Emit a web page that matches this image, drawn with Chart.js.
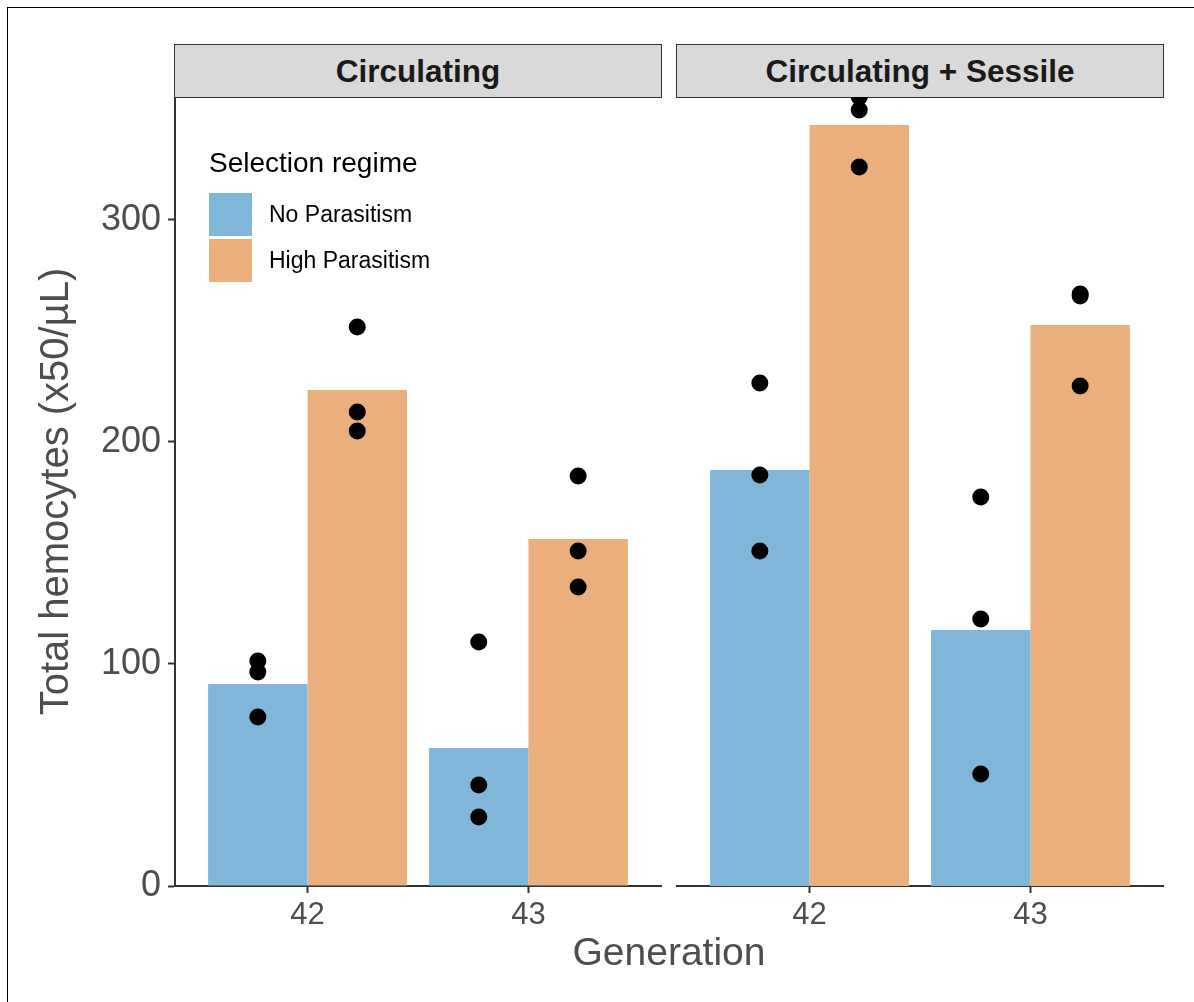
<!DOCTYPE html>
<html><head><meta charset="utf-8">
<script src="https://cdn.jsdelivr.net/npm/chart.js@4/dist/chart.umd.min.js"></script>
<style>
html,body{margin:0;padding:0;background:#fff;}
#root{position:relative;width:1194px;height:1002px;overflow:hidden;font-family:"Liberation Sans",Arial,Helvetica,sans-serif;}
.frame{position:absolute;left:7px;top:7px;width:1200px;height:1010px;border-left:1px solid #000;border-top:1px solid #000;}
.strip{position:absolute;top:44px;height:54px;background:#D9D9D9;border:1.5px solid #333;box-sizing:border-box;
  font-weight:bold;font-size:31.5px;color:#1A1A1A;display:flex;align-items:center;justify-content:center;}
.cv{position:absolute;}
#xtitle{position:absolute;left:0;width:1338px;top:930px;text-align:center;font-size:39px;color:#4D4D4D;}
#legend{position:absolute;left:209px;top:143px;color:#000;}
#legend .ttl{font-size:28px;height:48px;line-height:40px;}
#legend .row{display:flex;align-items:center;height:46px;}
#legend .key{width:43px;height:43px;margin-right:17px;}
#legend .lab{font-size:23px;}
</style></head>
<body><div id="root">
<div class="frame"></div>
<div id="strips"></div>
<div class="cv" style="left:0;top:97px;"><canvas id="c1" width="670" height="905"></canvas></div>
<div class="cv" style="left:670px;top:97px;"><canvas id="c2" width="524" height="905"></canvas></div>
<div id="legend"></div>
<div id="xtitle">Generation</div>
</div>
<script>
// ---- data ----
const facets = ['Circulating', 'Circulating + Sessile'];
const generations = ['42', '43'];
const regimes = ['No Parasitism', 'High Parasitism'];
const regimeColors = ['#80B7D8', '#EBAE7D'];
const yTicks = [0, 100, 200, 300];

// Circulating
const circNoBars   = [91.0, 62.2];
const circHighBars = [223.4, 156.3];
const circNoPoints   = [[101.4, 96.4, 76.1], [109.9, 45.5, 31.1]];
const circHighPoints = [[251.8, 213.5, 205.0], [184.7, 150.9, 134.7]];

// Circulating + Sessile
const sessNoBars   = [187.4, 115.3];
const sessHighBars = [342.8, 252.7];
const sessNoPoints   = [[226.6, 185.1, 150.9], [175.2, 120.3, 50.5]];
const sessHighPoints = [[355.4, 349.5, 323.9], [266.7, 265.8, 225.2]];

const yTitle = 'Total hemocytes (x50/\u00B5L)';
const xTitle = 'Generation';

// ---- layout helpers ----
const GROUP = 0.9;            // dodge width (ggplot default)
const DODGE = GROUP / 4;      // centre of each half-group
const FONT = '"Liberation Sans", Arial, Helvetica, sans-serif';
const AXIS = '#333333';
const TXT = '#4D4D4D';

const allPts = [circNoPoints, circHighPoints, sessNoPoints, sessHighPoints].flat(2);
const yMax = Math.max(...allPts);

// strips
const stripBox = [[174, 488], [676, 488]];
facets.forEach((f, i) => {
  const d = document.createElement('div');
  d.className = 'strip';
  d.style.left = stripBox[i][0] + 'px';
  d.style.width = stripBox[i][1] + 'px';
  d.textContent = f;
  document.getElementById('strips').appendChild(d);
});

// legend
const lg = document.getElementById('legend');
lg.innerHTML = '<div class="ttl">Selection regime</div>' +
  regimes.map((r, i) => `<div class="row"><div class="key" style="background:${regimeColors[i]}"></div><div class="lab">${r}</div></div>`).join('');
document.getElementById('xtitle').textContent = xTitle;

function barData(vals) { return vals.map((v, i) => ({ x: i + 1, y: v })); }
function pointData(pts, off) {
  const out = [];
  pts.forEach((arr, i) => arr.forEach(v => out.push({ x: i + 1 + off, y: v })));
  return out;
}

function makeChart(id, noBars, highBars, noPts, highPts, showY, padding) {
  const ds = [
    { type: 'bar', label: regimes[0], data: barData(noBars), backgroundColor: regimeColors[0], borderWidth: 0, categoryPercentage: GROUP, barPercentage: 1, order: 2 },
    { type: 'bar', label: regimes[1], data: barData(highBars), backgroundColor: regimeColors[1], borderWidth: 0, categoryPercentage: GROUP, barPercentage: 1, order: 2 },
    { type: 'line', data: pointData(noPts, -DODGE), showLine: false, pointRadius: 8.5, pointBackgroundColor: '#000', pointBorderWidth: 0, pointHoverRadius: 8.5, clip: 0, order: 1 },
    { type: 'line', data: pointData(highPts, DODGE), showLine: false, pointRadius: 8.5, pointBackgroundColor: '#000', pointBorderWidth: 0, pointHoverRadius: 8.5, clip: 0, order: 1 }
  ];
  return new Chart(document.getElementById(id), {
    type: 'bar',
    data: { datasets: ds },
    options: {
      responsive: false, animation: false,
      layout: { padding: padding, autoPadding: false },
      plugins: { legend: { display: false }, tooltip: { enabled: false } },
      scales: {
        x: {
          type: 'linear', min: 0.4, max: generations.length + 0.6, offset: false,
          afterBuildTicks: s => { s.ticks = generations.map((g, i) => ({ value: i + 1 })); },
          afterFit: s => { s.height = 116; s.paddingLeft = 0; s.paddingRight = 0; },
          ticks: { callback: v => generations[v - 1], font: { family: FONT, size: 31 }, color: TXT, padding: 4, maxRotation: 0 },
          grid: { display: true, offset: false, drawOnChartArea: false, drawTicks: true, tickLength: 7, tickColor: AXIS, tickWidth: 2 },
          border: { display: true, color: AXIS, width: 2 }
        },
        y: {
          display: showY, min: 0, max: yMax,
          afterBuildTicks: s => { s.ticks = yTicks.map(v => ({ value: v })); },
          afterFit: s => { if (showY) s.width = 175; s.paddingTop = 0; s.paddingBottom = 0; },
          ticks: { font: { family: FONT, size: 36 }, color: TXT, padding: 7 },
          grid: { display: true, offset: false, drawOnChartArea: false, drawTicks: true, tickLength: 7, tickColor: AXIS, tickWidth: 2 },
          border: { display: true, color: AXIS, width: 2 },
          title: { display: true, text: yTitle, font: { family: FONT, size: 40 }, color: TXT, padding: { top: 33, bottom: 0 } }
        }
      }
    }
  });
}

makeChart('c1', circNoBars, circHighBars, circNoPoints, circHighPoints, true, { left: 0, right: 9, top: 0, bottom: 0 });
makeChart('c2', sessNoBars, sessHighBars, sessNoPoints, sessHighPoints, false, { left: 7, right: 31, top: 0, bottom: 0 });
</script>
</body></html>
